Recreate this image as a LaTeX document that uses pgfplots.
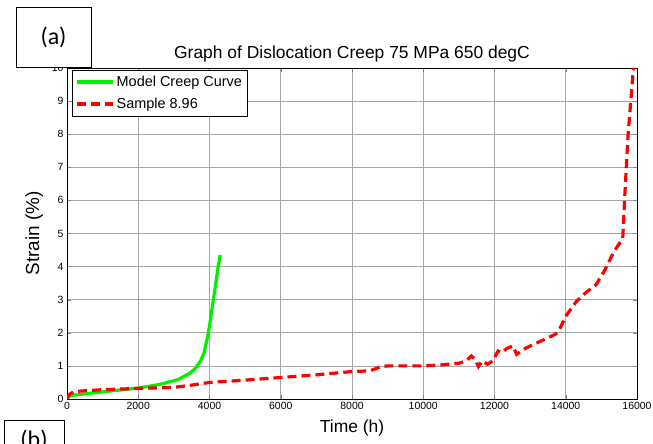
\documentclass[border=0pt]{standalone}
\usepackage{pgfplots}
\pgfplotsset{compat=1.18}
\usepackage{fontspec}
\setmainfont{Liberation Sans}
\newfontfamily\calibri{Carlito}
\begin{document}
\begin{tikzpicture}[x=1bp,y=1bp]
\useasboundingbox (0,0) rectangle (653,444);
\begin{axis}[
  at={(67bp,45bp)}, anchor=south west,
  scale only axis, width=570bp, height=331bp,
  xmin=0, xmax=16000, ymin=0, ymax=10,
  xtick={0,2000,...,16000}, ytick={0,1,...,10},
  scaled x ticks=false,
  xticklabel style={/pgf/number format/1000 sep={}},
  /pgf/number format/assume math mode=true,
  tick label style={font=\fontsize{10.5}{12}\selectfont},
  tick align=inside, major tick length=4bp,
  xmajorgrids, ymajorgrids,
  grid style={gray!70, line width=0.6pt},
  axis line style={line width=0.8pt},
  title={Graph of Dislocation Creep 75 MPa 650 degC},
  title style={font=\fontsize{17.5}{20}\selectfont, yshift=-4bp},
  xlabel={Time (h)}, ylabel={Strain (\%)},
  xlabel style={font=\fontsize{17.5}{20}\selectfont, yshift=-3bp},
  ylabel style={font=\fontsize{19}{21}\selectfont, yshift=2bp},
  legend style={font=\fontsize{14.5}{16}\selectfont, draw=black, line width=0.8pt,
    at={(0.009,0.995)}, anchor=north west, inner xsep=3pt, inner ysep=4pt, row sep=6bp},
  legend image code/.code={\draw[#1] (0bp,0bp) -- (36bp,0bp);},
  legend cell align=left,
]
\addplot[color={rgb,255:red,0;green,240;blue,0}, line width=3.2pt] coordinates {
(0,0.03) (100,0.10) (300,0.13) (700,0.18) (1300,0.25) (2000,0.33) (2600,0.44)
(3100,0.58) (3450,0.78) (3600,0.92) (3750,1.15) (3850,1.4) (3950,1.9) (4000,2.2)
(4080,2.8) (4150,3.3) (4230,3.9) (4300,4.35)
};
\addlegendentry{Model Creep Curve}
\addplot[color=red, line width=3.2pt, dash pattern=on 9bp off 5bp] coordinates {
(0,0.02) (80,0.15) (200,0.22) (500,0.25) (1000,0.28) (2000,0.32) (3000,0.35)
(3500,0.42) (4000,0.5) (5000,0.57) (6000,0.65) (7000,0.73) (8000,0.83) (8500,0.85)
(8800,0.97) (9000,1.0) (10000,1.0) (10500,1.03) (11000,1.08) (11200,1.15)
(11350,1.3) (11450,1.2) (11550,0.98) (11650,1.15) (11800,1.05) (11950,1.15)
(12100,1.45) (12200,1.4) (12350,1.53) (12520,1.6) (12620,1.35) (12900,1.55)
(13300,1.75) (13700,1.95) (13800,2.05) (14000,2.5) (14300,2.95) (14550,3.2)
(14850,3.45) (15100,3.9) (15350,4.45) (15600,4.85) (15650,6.0) (15750,8.0) (15900,10.0)
};
\addlegendentry{Sample 8.96}
\end{axis}
\draw[fill=white, line width=0.8pt] (16,377) rectangle (91,437);
\node[font=\calibri\fontsize{24}{28}\selectfont] at (53.5,407) {(a)};
\draw[fill=white, line width=0.8pt] (4,-20) rectangle (64,24);
\node[font=\calibri\fontsize{24}{28}\selectfont, anchor=north] at (34,18) {(b)};
\end{tikzpicture}
\end{document}
